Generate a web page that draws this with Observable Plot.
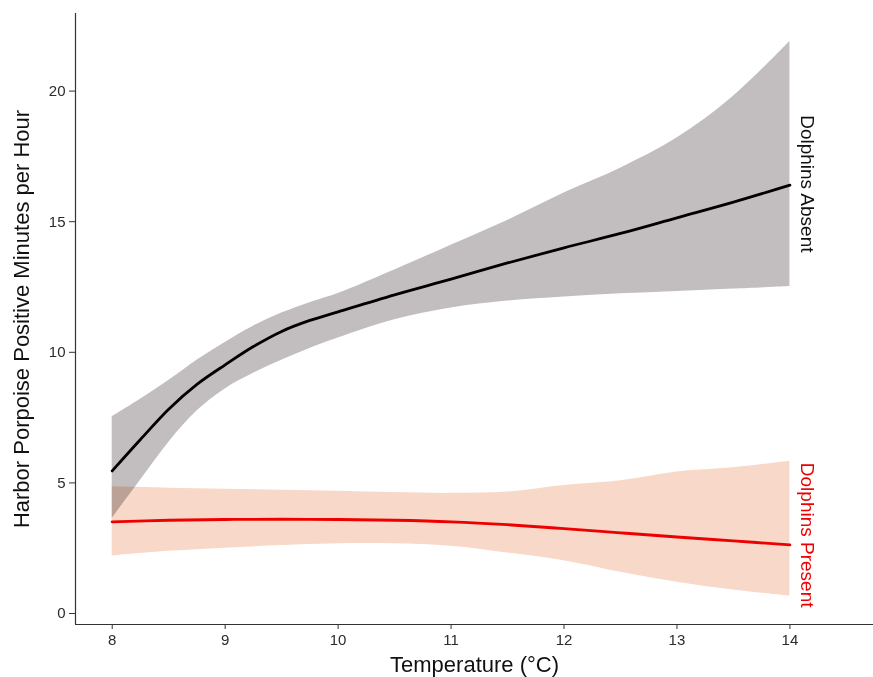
<!DOCTYPE html>
<html>
<head>
<meta charset="utf-8">
<script src="https://cdn.jsdelivr.net/npm/d3@7"></script>
<script src="https://cdn.jsdelivr.net/npm/@observablehq/plot@0.6"></script>
<style>
  html, body { margin: 0; padding: 0; background: #fff; }
  #chart svg { display: block; }
</style>
</head>
<body>
<div id="chart"></div>
<script>
// ---- data ----
const tempsAbsent = [8, 8.25, 8.5, 8.75, 9, 9.25, 9.5, 9.75, 10, 10.5, 11, 11.5, 12, 12.5, 13, 13.5, 14];
const absentFit = [5.46, 6.66, 7.82, 8.77, 9.52, 10.22, 10.8, 11.22, 11.55, 12.2, 12.8, 13.42, 14.0, 14.55, 15.15, 15.75, 16.4];
const absentLo  = [3.64, 5.1, 6.55, 7.75, 8.6, 9.2, 9.7, 10.15, 10.55, 11.25, 11.7, 11.96, 12.12, 12.24, 12.33, 12.42, 12.52];
const absentHi  = [7.53, 8.2, 8.92, 9.7, 10.38, 11.0, 11.5, 11.9, 12.25, 13.15, 14.1, 15.05, 16.1, 17.05, 18.2, 19.8, 21.9];

const tempsPresent = [8, 8.5, 9, 9.5, 10, 10.5, 11, 11.5, 12, 12.5, 13, 13.5, 14];
const presentFit = [3.51, 3.57, 3.6, 3.61, 3.6, 3.57, 3.51, 3.4, 3.25, 3.09, 2.93, 2.78, 2.63];
const presentLo  = [2.2, 2.38, 2.5, 2.6, 2.67, 2.67, 2.58, 2.32, 2.02, 1.58, 1.2, 0.9, 0.66];
const presentHi  = [4.85, 4.8, 4.76, 4.72, 4.68, 4.63, 4.6, 4.65, 4.9, 5.08, 5.42, 5.58, 5.83];

const groupLabels = ["Dolphins Absent", "Dolphins Present"];
const labelY = [16.45, 3.0];
const labelX = [14, 14];

const xTicks = [8, 9, 10, 11, 12, 13, 14];
const yTicks = [0, 5, 10, 15, 20];
const xTitle = "Temperature (°C)";
const yTitle = "Harbor Porpoise Positive Minutes per Hour";

const xDomain = [7.675, 14.74];
const yDomain = [-0.42, 22.97];

// ---- tables ----
const absent = tempsAbsent.map((t, i) => ({t, fit: absentFit[i], lo: absentLo[i], hi: absentHi[i]}));
const present = tempsPresent.map((t, i) => ({t, fit: presentFit[i], lo: presentLo[i], hi: presentHi[i]}));
const labels = groupLabels.map((g, i) => ({g, x: labelX[i], y: labelY[i]}));

const font = "'Liberation Sans', Arial, Helvetica, sans-serif";
const axisColor = "#333";
const curve = "catmull-rom";

const chart = Plot.plot({
  width: 873,
  height: 677,
  marginLeft: 75,
  marginRight: 0,
  marginTop: 13,
  marginBottom: 53,
  style: {fontFamily: font, fontSize: "15px", background: "#fff", color: "#222"},
  x: {domain: xDomain},
  y: {domain: yDomain},
  marks: [
    Plot.areaY(absent, {x: "t", y1: "lo", y2: "hi", fill: "#c2bebf", curve}),
    Plot.areaY(present, {x: "t", y1: "lo", y2: "hi", fill: "#f8d8c8", curve, mixBlendMode: "multiply"}),
    Plot.lineY(absent, {x: "t", y: "fit", stroke: "#000", strokeWidth: 2.8, curve}),
    Plot.lineY(present, {x: "t", y: "fit", stroke: "#ee0000", strokeWidth: 2.8, curve}),
    Plot.text(labels, {x: "x", y: "y", text: "g", rotate: 90, dx: 17, textAnchor: "middle", lineAnchor: "middle",
      fill: (d, i) => i === 0 ? "#111" : "#ee0000", fontSize: 19}),
    Plot.ruleX([xDomain[0]], {stroke: axisColor, strokeWidth: 1.2}),
    Plot.ruleY([yDomain[0]], {stroke: axisColor, strokeWidth: 1.2}),
    Plot.axisX({ticks: xTicks, tickFormat: d3.format("d"), tickSize: 5, tickPadding: 5, label: null,
      stroke: axisColor, fill: "#2b2b2b", fontSize: 15}),
    Plot.axisY({ticks: yTicks, tickFormat: d3.format("d"), tickSize: 6, tickPadding: 4, label: null,
      stroke: axisColor, fill: "#2b2b2b", fontSize: 15}),
    Plot.text([xTitle], {frameAnchor: "bottom", dy: 40, text: d => d, fontSize: 22, fill: "#111",
      textAnchor: "middle", lineAnchor: "middle"}),
    Plot.text([yTitle], {frameAnchor: "left", dx: -53.5, rotate: -90, text: d => d, fontSize: 22, fill: "#111",
      textAnchor: "middle", lineAnchor: "middle"})
  ]
});

document.getElementById("chart").appendChild(chart);
</script>
</body>
</html>
